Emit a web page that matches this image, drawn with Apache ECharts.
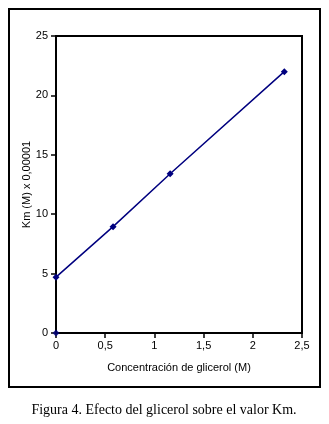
<!DOCTYPE html>
<html>
<head>
<meta charset="utf-8">
<script src="https://cdn.jsdelivr.net/npm/echarts@6/dist/echarts.min.js"></script>
<style>
  html, body { margin: 0; padding: 0; background: #fff; }
  #chart { width: 329px; height: 424px; }
</style>
</head>
<body>
<div id="chart"></div>
<script>
var concentracion = [0, 0.58, 1.16, 2.32];
var km = [4.7, 8.95, 13.4, 22.0];
var origen = [[0, 0]];
var xTicks = [0, 0.5, 1, 1.5, 2, 2.5];
var yTicks = [0, 5, 10, 15, 20, 25];

var chart = echarts.init(document.getElementById('chart'));

var lineData = [];
for (var i = 0; i < concentracion.length; i++) {
  lineData.push([concentracion[i], km[i]]);
}

var axisText = { color: '#000', fontFamily: 'Liberation Sans, Arial', fontSize: 11 };

var option = {
  backgroundColor: '#fff',
  animation: false,
  grid: {
    left: 56, top: 36, right: 27, bottom: 91,
    show: true, borderColor: '#000', borderWidth: 2
  },
  xAxis: {
    type: 'value',
    min: 0, max: 2.5, interval: 0.5,
    name: 'Concentración de glicerol (M)',
    nameLocation: 'middle',
    nameGap: 29,
    nameMoveOverlap: false,
    nameTextStyle: axisText,
    axisLine: { show: true, lineStyle: { color: '#000', width: 2 } },
    axisTick: { show: true, length: 5, lineStyle: { color: '#000', width: 1.5 } },
    axisLabel: Object.assign({ margin: 7, formatter: function (v) { return String(v).replace('.', ','); } }, axisText),
    splitLine: { show: false }
  },
  yAxis: {
    type: 'value',
    min: 0, max: 25, interval: 5,
    name: 'Km (M) x 0,00001',
    nameLocation: 'middle',
    nameGap: 24,
    nameMoveOverlap: false,
    nameTextStyle: axisText,
    axisLine: { show: true, lineStyle: { color: '#000', width: 2 } },
    axisTick: { show: true, length: 5, lineStyle: { color: '#000', width: 1.5 } },
    axisLabel: Object.assign({ margin: 8 }, axisText),
    splitLine: { show: false }
  },
  series: [{
    type: 'line',
    data: lineData,
    symbol: 'diamond',
    symbolSize: 7,
    lineStyle: { color: '#00007f', width: 1.5 },
    itemStyle: { color: '#00007f' }
  }, {
    type: 'scatter',
    data: origen,
    symbol: 'diamond',
    symbolSize: 7,
    itemStyle: { color: '#00007f' }
  }],
  graphic: [{
    type: 'rect',
    shape: { x: 9, y: 9, width: 311, height: 378 },
    style: { fill: 'none', stroke: '#000', lineWidth: 2 },
    silent: true
  }, {
    type: 'text',
    x: 164, y: 410,
    style: {
      text: 'Figura 4. Efecto del glicerol sobre el valor Km.',
      font: '14px "Liberation Serif", "Times New Roman", serif',
      fill: '#000',
      align: 'center',
      verticalAlign: 'middle'
    }
  }]
};

chart.setOption(option);
</script>
</body>
</html>
